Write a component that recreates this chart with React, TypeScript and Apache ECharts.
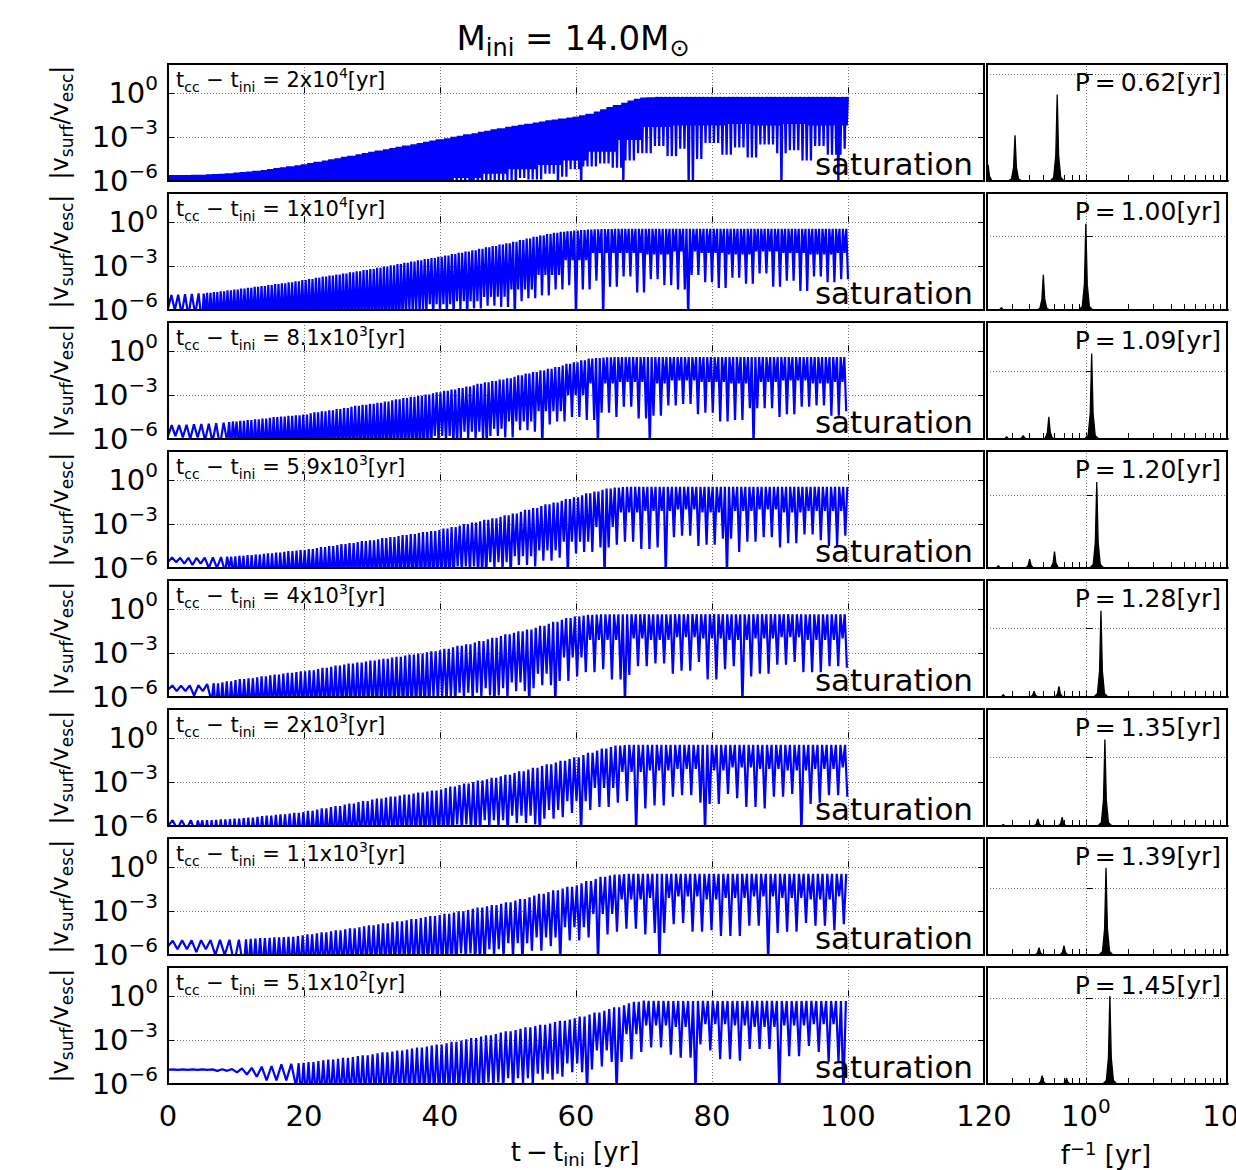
import React, { useEffect, useRef } from "react";
import * as echarts from "echarts";

const FONT = "DejaVu Sans";

// ---------- data ----------
const periods = [0.62, 1.0, 1.09, 1.2, 1.28, 1.35, 1.39, 1.45];
const periodLabels = ["0.62", "1.00", "1.09", "1.20", "1.28", "1.35", "1.39", "1.45"];
const tccMantissa = ["2", "1", "8.1", "5.9", "4", "2", "1.1", "5.1"];
const tccExponent = ["4", "4", "3", "3", "3", "3", "3", "2"];
// time before which |v| dips once per period (offset-dominated), afterwards twice
const crossTimes = [0, 5, 8, 8, 6, 4, 10, 18];

const xTicksLeft = [0, 20, 40, 60, 80, 100, 120];
const minorPeriods = [0.3, 0.4, 0.5, 0.6, 0.7, 0.8, 0.9, 1, 2, 3, 4, 5, 6, 7, 8, 9];
const specLabelExps = [0, 1];
const gridLevels = [0.909, 0.632, 0.582, 0.62, 0.588, 0.589, 0.568, 0.733];

// upper envelope (peaks), log10 |v/vesc|, t = 0,1,...,100 yr
const up1 = [
  -5.6, -5.6, -5.6, -5.59, -5.58, -5.57, -5.55, -5.53, -5.5, -5.47,
  -5.43, -5.39, -5.35, -5.3, -5.25, -5.19, -5.12, -5.06, -5.0, -4.93,
  -4.85, -4.77, -4.68, -4.6, -4.52, -4.44, -4.35, -4.27, -4.18, -4.09,
  -4.0, -3.92, -3.83, -3.75, -3.66, -3.58, -3.49, -3.41, -3.32, -3.24,
  -3.15, -3.07, -2.98, -2.9, -2.81, -2.73, -2.64, -2.56, -2.47, -2.39,
  -2.3, -2.23, -2.15, -2.08, -2.0, -1.93, -1.85, -1.79, -1.72, -1.66,
  -1.6, -1.5, -1.4, -1.25, -1.1, -0.95, -0.8, -0.65, -0.5, -0.38,
  -0.3, -0.27, -0.25, -0.25, -0.25, -0.25, -0.25, -0.25, -0.25, -0.25,
  -0.25, -0.25, -0.25, -0.25, -0.25, -0.25, -0.25, -0.25, -0.25, -0.25,
  -0.25, -0.25, -0.25, -0.25, -0.25, -0.25, -0.25, -0.25, -0.25, -0.25,
  -0.25];
const up2 = [
  -5.0, -4.97, -4.95, -4.92, -4.9, -4.87, -4.83, -4.78, -4.72, -4.66,
  -4.6, -4.54, -4.48, -4.42, -4.36, -4.3, -4.23, -4.17, -4.1, -4.03,
  -3.96, -3.88, -3.8, -3.72, -3.65, -3.57, -3.5, -3.42, -3.35, -3.27,
  -3.2, -3.11, -3.03, -2.94, -2.86, -2.77, -2.69, -2.6, -2.52, -2.44,
  -2.36, -2.27, -2.18, -2.09, -2.0, -1.91, -1.82, -1.72, -1.63, -1.53,
  -1.44, -1.33, -1.22, -1.11, -1.0, -0.9, -0.8, -0.72, -0.65, -0.61,
  -0.57, -0.53, -0.5, -0.48, -0.47, -0.46, -0.45, -0.45, -0.45, -0.45,
  -0.45, -0.45, -0.45, -0.45, -0.45, -0.45, -0.45, -0.45, -0.45, -0.45,
  -0.45, -0.45, -0.45, -0.45, -0.45, -0.45, -0.45, -0.45, -0.45, -0.45,
  -0.45, -0.45, -0.45, -0.45, -0.45, -0.45, -0.45, -0.45, -0.45, -0.45,
  -0.45];
const up3 = [
  -5.05, -5.05, -5.05, -5.03, -5.0, -4.98, -4.95, -4.92, -4.88, -4.84,
  -4.8, -4.75, -4.7, -4.65, -4.6, -4.55, -4.5, -4.46, -4.42, -4.38,
  -4.33, -4.25, -4.18, -4.1, -4.03, -3.95, -3.88, -3.8, -3.73, -3.66,
  -3.6, -3.52, -3.44, -3.36, -3.28, -3.2, -3.12, -3.04, -2.96, -2.88,
  -2.8, -2.7, -2.61, -2.51, -2.42, -2.32, -2.23, -2.13, -2.04, -1.94,
  -1.85, -1.74, -1.64, -1.53, -1.42, -1.31, -1.2, -1.08, -0.97, -0.86,
  -0.75, -0.62, -0.5, -0.46, -0.43, -0.41, -0.4, -0.4, -0.4, -0.4,
  -0.4, -0.4, -0.4, -0.4, -0.4, -0.4, -0.4, -0.4, -0.4, -0.4,
  -0.4, -0.4, -0.4, -0.4, -0.4, -0.4, -0.4, -0.4, -0.4, -0.4,
  -0.4, -0.4, -0.4, -0.4, -0.4, -0.4, -0.4, -0.4, -0.4, -0.4,
  -0.4];
const up4 = [
  -5.25, -5.28, -5.3, -5.3, -5.3, -5.29, -5.28, -5.27, -5.25, -5.23,
  -5.2, -5.16, -5.12, -5.08, -5.03, -4.99, -4.94, -4.9, -4.85, -4.81,
  -4.77, -4.7, -4.64, -4.57, -4.5, -4.43, -4.37, -4.3, -4.23, -4.16,
  -4.1, -4.03, -3.96, -3.89, -3.82, -3.75, -3.68, -3.61, -3.54, -3.47,
  -3.4, -3.3, -3.2, -3.1, -3.0, -2.9, -2.8, -2.7, -2.6, -2.5,
  -2.4, -2.27, -2.15, -2.02, -1.9, -1.77, -1.65, -1.52, -1.4, -1.28,
  -1.16, -1.03, -0.9, -0.77, -0.65, -0.56, -0.5, -0.47, -0.45, -0.45,
  -0.45, -0.45, -0.45, -0.45, -0.45, -0.45, -0.45, -0.45, -0.45, -0.45,
  -0.45, -0.45, -0.45, -0.45, -0.45, -0.45, -0.45, -0.45, -0.45, -0.45,
  -0.45, -0.45, -0.45, -0.45, -0.45, -0.45, -0.45, -0.45, -0.45, -0.45,
  -0.45];
const up5 = [
  -5.2, -5.21, -5.22, -5.21, -5.2, -5.16, -5.12, -5.06, -5.0, -4.93,
  -4.85, -4.78, -4.72, -4.65, -4.59, -4.52, -4.46, -4.4, -4.35, -4.3,
  -4.25, -4.17, -4.09, -4.01, -3.93, -3.85, -3.78, -3.71, -3.64, -3.57,
  -3.51, -3.44, -3.38, -3.31, -3.25, -3.17, -3.1, -3.02, -2.95, -2.87,
  -2.8, -2.7, -2.6, -2.5, -2.39, -2.28, -2.17, -2.06, -1.95, -1.83,
  -1.72, -1.61, -1.5, -1.38, -1.27, -1.13, -1.0, -0.86, -0.72, -0.6,
  -0.49, -0.43, -0.38, -0.36, -0.34, -0.34, -0.34, -0.34, -0.34, -0.34,
  -0.34, -0.34, -0.34, -0.34, -0.34, -0.34, -0.34, -0.34, -0.34, -0.34,
  -0.34, -0.34, -0.34, -0.34, -0.34, -0.34, -0.34, -0.34, -0.34, -0.34,
  -0.34, -0.34, -0.34, -0.34, -0.34, -0.34, -0.34, -0.34, -0.34, -0.34,
  -0.34];
const up6 = [
  -5.6, -5.6, -5.6, -5.61, -5.62, -5.61, -5.6, -5.58, -5.55, -5.53,
  -5.5, -5.46, -5.42, -5.38, -5.33, -5.29, -5.24, -5.2, -5.15, -5.1,
  -5.05, -4.97, -4.88, -4.8, -4.71, -4.63, -4.54, -4.46, -4.37, -4.29,
  -4.2, -4.13, -4.06, -3.99, -3.92, -3.85, -3.78, -3.71, -3.64, -3.57,
  -3.5, -3.4, -3.3, -3.2, -3.1, -3.0, -2.9, -2.8, -2.7, -2.6,
  -2.5, -2.38, -2.26, -2.14, -2.02, -1.9, -1.78, -1.66, -1.54, -1.42,
  -1.3, -1.15, -1.0, -0.85, -0.7, -0.6, -0.5, -0.47, -0.45, -0.45,
  -0.45, -0.45, -0.45, -0.45, -0.45, -0.45, -0.45, -0.45, -0.45, -0.45,
  -0.45, -0.45, -0.45, -0.45, -0.45, -0.45, -0.45, -0.45, -0.45, -0.45,
  -0.45, -0.45, -0.45, -0.45, -0.45, -0.45, -0.45, -0.45, -0.45, -0.45,
  -0.45];
const up7 = [
  -5.05, -5.02, -5.0, -5.0, -5.0, -4.99, -4.98, -4.98, -4.97, -4.96,
  -4.95, -4.93, -4.9, -4.88, -4.85, -4.83, -4.8, -4.78, -4.75, -4.7,
  -4.65, -4.58, -4.52, -4.45, -4.38, -4.31, -4.24, -4.17, -4.1, -4.03,
  -3.97, -3.9, -3.83, -3.76, -3.69, -3.62, -3.55, -3.48, -3.41, -3.34,
  -3.27, -3.18, -3.1, -3.01, -2.93, -2.84, -2.76, -2.67, -2.59, -2.5,
  -2.4, -2.28, -2.17, -2.05, -1.94, -1.82, -1.7, -1.58, -1.46, -1.34,
  -1.23, -1.09, -0.95, -0.8, -0.65, -0.57, -0.5, -0.47, -0.45, -0.45,
  -0.45, -0.45, -0.45, -0.45, -0.45, -0.45, -0.45, -0.45, -0.45, -0.45,
  -0.45, -0.45, -0.45, -0.45, -0.45, -0.45, -0.45, -0.45, -0.45, -0.45,
  -0.45, -0.45, -0.45, -0.45, -0.45, -0.45, -0.45, -0.45, -0.45, -0.45,
  -0.45];
const up8 = [
  -5.0, -5.0, -5.0, -5.0, -5.0, -5.0, -5.0, -5.0, -4.99, -4.98,
  -4.96, -4.93, -4.9, -4.86, -4.82, -4.77, -4.72, -4.66, -4.62, -4.58,
  -4.55, -4.5, -4.44, -4.38, -4.33, -4.27, -4.21, -4.15, -4.09, -4.03,
  -3.97, -3.91, -3.84, -3.78, -3.71, -3.65, -3.58, -3.51, -3.44, -3.37,
  -3.3, -3.21, -3.12, -3.03, -2.94, -2.85, -2.76, -2.67, -2.58, -2.49,
  -2.4, -2.31, -2.22, -2.13, -2.04, -1.95, -1.86, -1.77, -1.68, -1.59,
  -1.5, -1.38, -1.25, -1.12, -1.0, -0.88, -0.75, -0.62, -0.48, -0.38,
  -0.3, -0.31, -0.32, -0.32, -0.32, -0.32, -0.32, -0.32, -0.32, -0.32,
  -0.32, -0.32, -0.32, -0.32, -0.32, -0.32, -0.32, -0.32, -0.32, -0.32,
  -0.32, -0.32, -0.32, -0.32, -0.32, -0.32, -0.32, -0.32, -0.32, -0.32,
  -0.32];

// shallow troughs (floor of the dense band), t = 0,4,...,100
const fl1 = [-7, -7, -7, -7, -7, -7, -7, -7, -7, -7, -7,
  -5.8, -5.5, -5.2, -4.9, -4.6, -4.0, -3.2, -2.3, -2.2, -2.2, -2.1, -2.2, -2.1, -2.2, -2.2];
const fl2 = [-5.9, -6.3, -7, -7, -7, -7, -7, -7, -7,
  -6.0, -5.6, -5.4, -5.1, -4.6, -3.6, -2.6, -2.1, -2.1, -2.2, -2.0, -2.1, -2.2, -2.0, -2.1, -2.2, -2.1];
const fl3 = [-5.8, -5.9, -6.2, -7, -7, -7, -7, -7, -7, -7,
  -5.8, -5.5, -5.3, -4.8, -4.1, -3.0, -2.2, -2.1, -2.2, -2.0, -2.1, -2.2, -2.1, -2.0, -2.2, -2.1];
const fl4 = [-5.6, -5.7, -6.0, -7, -7, -7, -7, -7, -7, -7, -7,
  -5.9, -5.6, -5.2, -4.8, -4.2, -3.2, -2.2, -2.1, -2.0, -2.2, -2.1, -2.0, -2.2, -2.1, -2.1];
const fl5 = [-5.5, -5.6, -7, -7, -7, -7, -7, -7, -7, -7,
  -6.0, -5.7, -5.4, -5.0, -4.4, -3.3, -2.1, -2.0, -2.1, -1.9, -2.0, -2.1, -2.0, -1.9, -2.1, -2.0];
const fl6 = [-6.0, -6.2, -7, -7, -7, -7, -7, -7, -7, -7, -7,
  -5.9, -5.6, -5.3, -4.9, -4.3, -3.4, -2.3, -2.2, -2.1, -2.2, -2.0, -2.1, -2.2, -2.1, -2.0];
const fl7 = [-5.4, -5.6, -6.0, -7, -7, -7, -7, -7, -7, -7, -7,
  -5.9, -5.6, -5.2, -4.8, -4.1, -3.2, -2.2, -2.1, -2.0, -2.2, -2.1, -2.0, -2.1, -2.2, -2.0];
const fl8 = [-5.03, -5.04, -5.1, -5.35, -5.75, -7, -7, -7, -7, -7, -7, -7,
  -5.9, -5.6, -5.3, -4.6, -3.7, -2.6, -2.0, -2.1, -1.9, -2.0, -2.1, -2.0, -1.9, -2.0];

// deep troughs (spikes below the band), t = 0,2,...,100
const dp1 = [-7, -7, -7, -7, -7, -7, -7, -7, -7, -7, -7, -7, -7, -7, -7, -7, -7, -7, -7, -7, -7,
  -6.6, -6.2, -6.5, -6.0, -6.1, -5.8, -5.9, -5.5, -5.7, -5.2,
  -5.0, -4.8, -5.1, -4.6, -4.1, -3.6, -4.3, -3.8, -4.5, -3.4,
  -4.2, -3.7, -4.4, -3.5, -4.1, -3.9, -4.6, -3.6, -4.2, -3.8];
const dp2 = [-5.9, -6.0, -6.4, -7, -7, -7, -7, -7, -7, -7, -7, -7, -7, -7, -7, -7, -7, -7,
  -6.5, -6.3, -6.2, -6.4, -6.0, -5.9, -5.7, -5.8, -5.4, -5.2, -5.0, -4.6, -4.3, -4.6, -4.0, -4.4,
  -3.7, -4.8, -3.9, -4.3, -4.6, -3.6, -4.1, -4.5, -3.8, -4.2, -3.5, -4.4, -4.0, -4.7, -3.7, -4.1, -3.9];
const dp3 = [-5.8, -5.8, -6.0, -6.1, -6.5, -6.8, -7, -7, -7, -7, -7, -7, -7, -7, -7, -7, -7, -7, -7, -7,
  -6.3, -6.5, -6.0, -6.1, -5.8, -5.9, -5.4, -5.5, -5.0, -4.8, -4.5, -4.7, -4.2, -4.5, -3.8, -4.6,
  -4.4, -3.7, -3.6, -4.3, -4.2, -4.8, -4.7, -3.9, -3.9, -4.5, -4.3, -3.8, -3.7, -4.4, -4.1];
const dp4 = [-5.6, -5.6, -5.8, -6.0, -6.3, -6.6, -7, -7, -7, -7, -7, -7, -7, -7, -7, -7, -7, -7, -7, -7, -7, -7,
  -6.4, -6.6, -6.1, -6.2, -5.8, -5.9, -5.5, -5.3, -5.0, -4.9, -4.6, -4.4, -4.2, -4.7, -4.6,
  -3.9, -3.8, -4.5, -4.4, -4.0, -4.9, -4.2, -3.9, -4.6, -4.3, -3.7, -4.1, -4.5, -3.8];
const dp5 = [-5.5, -5.6, -5.9, -6.3, -7, -7, -7, -7, -7, -7, -7, -7, -7, -7, -7, -7, -7, -7, -7, -7,
  -6.4, -6.6, -6.2, -6.0, -5.9, -6.1, -5.6, -5.4, -5.2, -4.9, -4.6, -4.3, -4.1, -4.8, -4.5, -3.9,
  -3.7, -4.4, -4.2, -3.6, -4.8, -4.1, -3.9, -4.6, -4.4, -3.8, -3.6, -4.3, -4.3, -3.9, -4.0];
const dp6 = [-6.1, -6.2, -6.5, -6.8, -7, -7, -7, -7, -7, -7, -7, -7, -7, -7, -7, -7, -7, -7, -7, -7, -7, -7,
  -6.4, -6.5, -6.1, -6.3, -5.8, -5.9, -5.5, -5.4, -5.1, -4.9, -4.7, -4.4, -4.3, -4.8, -4.6,
  -4.0, -3.9, -4.4, -4.5, -3.8, -4.1, -4.7, -4.8, -4.0, -3.8, -4.5, -4.4, -3.9, -4.0];
const dp7 = [-5.5, -5.6, -5.8, -6.0, -6.3, -6.6, -7, -7, -7, -7, -7, -7, -7, -7, -7, -7, -7, -7, -7, -7, -7, -7,
  -6.4, -6.6, -6.1, -6.2, -5.8, -5.7, -5.4, -5.2, -5.0, -4.8, -4.6, -4.4, -4.2, -4.6, -4.5,
  -3.9, -3.8, -4.4, -4.3, -4.7, -4.7, -4.0, -3.9, -4.5, -4.4, -3.8, -4.0, -4.3, -3.9];
const dp8 = [-5.02, -5.03, -5.04, -5.05, -5.1, -5.2, -5.35, -5.5, -5.75, -6.2,
  -7, -7, -7, -7, -7, -7, -7, -7, -7, -7, -7, -7, -7, -7,
  -6.3, -6.5, -6.0, -6.1, -5.7, -5.5, -5.2, -5.0, -4.8, -4.5, -4.3, -3.8, -3.5, -4.0,
  -4.2, -3.3, -3.7, -4.3, -4.4, -3.6, -3.6, -4.2, -4.1, -3.4, -3.8, -4.5, -4.0];

// isolated very deep dips (years)
const dips1 = [44.5, 51, 57.5, 60.8, 66.9, 76.7, 77.2, 90.2, 98.5];
const dips2 = [34.6, 39, 44, 51, 60, 64, 76.6];
const dips3 = [38, 42.5, 47, 55, 63, 71, 86];
const dips4 = [46, 50.5, 59, 64, 73, 82];
const dips5 = [42, 48, 53, 57, 67, 84.5];
const dips6 = [45, 50, 55, 61, 69, 79, 93];
const dips7 = [46, 52, 58, 63, 72, 88];
const dips8 = [61.8, 66, 77.3, 90, 99];
const DIP_LEVEL = -6.6;

// spectrum peaks: [period (yr), height as fraction of panel]
const peaks1 = [[0.203, 0.14], [0.315, 0.39], [0.627, 0.739]];
const peaks2 = [[0.252, 0.02], [0.5, 0.3], [1.0, 0.737]];
const peaks3 = [[0.275, 0.02], [0.36, 0.03], [0.547, 0.19], [1.1, 0.731]];
const peaks4 = [[0.24, 0.02], [0.4, 0.075], [0.6, 0.14], [1.195, 0.735]];
const peaks5 = [[0.26, 0.02], [0.43, 0.05], [0.645, 0.09], [1.28, 0.738]];
const peaks6 = [[0.26, 0.012], [0.457, 0.06], [0.68, 0.075], [1.365, 0.739]];
const peaks7 = [[0.466, 0.063], [0.7, 0.08], [1.39, 0.745]];
const peaks8 = [[0.49, 0.072], [0.73, 0.05], [1.48, 0.753]];
// profile of one spectral line: [log10 offset, relative height]
const peakShape = [[-0.05, 0], [-0.025, 0.04], [-0.01, 0.3], [0, 1], [0.01, 0.3], [0.025, 0.04], [0.05, 0]];

const uppers = [up1, up2, up3, up4, up5, up6, up7, up8];
const floors = [fl1, fl2, fl3, fl4, fl5, fl6, fl7, fl8];
const deeps = [dp1, dp2, dp3, dp4, dp5, dp6, dp7, dp8];
const dipTimes = [dips1, dips2, dips3, dips4, dips5, dips6, dips7, dips8];
const spectrumPeaks = [peaks1, peaks2, peaks3, peaks4, peaks5, peaks6, peaks7, peaks8];

// ---------- layout ----------
const L_X = 168, L_W = 816, R_X = 987, R_W = 240, TOP0 = 64, PITCH = 129, H = 117;

function buildTimeSeries(i: number): number[][] {
  const P = periods[i];
  const up = uppers[i], fl = floors[i], dp = deeps[i], dips = dipTimes[i];
  const out: number[][] = [];
  let t = 0;
  let j = 0;
  while (t <= 100.0001) {
    const step = t < crossTimes[i] ? P : P / 2;
    let low = j % 2 === 1 ? dp[Math.round(t / 2)] : fl[Math.round(t / 4)];
    for (const d of dips) if (Math.abs(d - t) < step / 2) low = DIP_LEVEL;
    out.push([t, low]);
    const tp = t + step / 2;
    if (tp <= 100) out.push([tp, up[Math.round(tp)]]);
    t += step;
    j++;
  }
  return out;
}

function buildSpectrum(i: number): number[][] {
  const pts: number[][] = [[-0.8, 0]];
  for (const [p, h] of spectrumPeaks[i]) {
    const c = Math.log10(p);
    for (const [dx, f] of peakShape) pts.push([c + dx, h * f]);
  }
  pts.push([1.05, 0]);
  return pts;
}

function rs(fontSize: number, lineHeight: number, verticalAlign?: string) {
  const o: any = { fontSize, lineHeight, fontFamily: FONT, color: "#000", fill: "#000" };
  if (verticalAlign) o.verticalAlign = verticalAlign;
  return o;
}

const tickRich = { b: rs(29, 40), sup: rs(20, 26, "top") };
const labelRich = { b: rs(21, 28), sub: rs(14, 18, "bottom"), sup: rs(14, 14, "top") };
const pRich = { b: rs(25, 30) };
const satRich = { b: rs(31, 36) };
const rowRich = { b: rs(24, 30), sub: rs(17, 20, "bottom") };
const titleRich = { b: rs(34, 44), sub: rs(24, 24, "bottom") };
const nameRich = { b: rs(26, 32), sub: rs(18, 18, "bottom"), sup: rs(18, 16, "top") };

const dotted = { type: [1, 2], color: "#777", width: 1 };

function textEl(x: number, y: number, text: string, rich: any, align: string, extra: any = {}) {
  return {
    type: "text",
    x,
    y,
    z: 110,
    silent: true,
    ...extra,
    style: {
      text,
      rich,
      fill: "#000",
      fontFamily: FONT,
      align,
      textAlign: align,
      verticalAlign: "middle",
      textVerticalAlign: "middle",
    },
  };
}

function buildOption(): any {
  const grid: any[] = [];
  const xAxis: any[] = [];
  const yAxis: any[] = [];
  const series: any[] = [];
  const graphic: any[] = [];

  for (let i = 0; i < 8; i++) {
    const top = TOP0 + i * PITCH;
    const last = i === 7;
    grid.push({ left: L_X, top, width: L_W, height: H, containLabel: false, outerBoundsMode: "none" });
    grid.push({ left: R_X, top, width: R_W, height: H, containLabel: false, outerBoundsMode: "none" });

    xAxis.push({
      type: "value",
      gridIndex: 2 * i,
      min: xTicksLeft[0],
      max: xTicksLeft[xTicksLeft.length - 1],
      interval: 20,
      axisLine: { show: false },
      axisTick: { show: true, inside: true, length: 6, lineStyle: { color: "#000", width: 1 } },
      axisLabel: {
        show: last,
        margin: 12,
        formatter: (v: number) => `{b|${v}}`,
        rich: tickRich,
      },
      splitLine: { show: true, lineStyle: dotted },
    });
    xAxis.push({
      type: "value",
      gridIndex: 2 * i + 1,
      min: -0.7,
      max: 1,
      axisLine: { show: false },
      axisTick: {
        show: true,
        inside: true,
        length: 6,
        customValues: minorPeriods.map((p) => Math.log10(p)),
        lineStyle: { color: "#000", width: 1 },
      },
      axisLabel: {
        show: last,
        margin: 12,
        customValues: specLabelExps,
        formatter: (v: number) => `{b|10}{sup|${Math.round(v)}}`,
        rich: tickRich,
      },
      splitLine: { show: false },
    });

    yAxis.push({
      type: "value",
      gridIndex: 2 * i,
      min: -6,
      max: 2,
      interval: 3,
      axisLine: { show: false },
      axisTick: { show: true, inside: true, length: 6, lineStyle: { color: "#000", width: 1 } },
      axisLabel: {
        show: true,
        margin: 10,
        formatter: (v: number) =>
          v > 0.5 ? "" : `{b|10}{sup|${v === 0 ? "0" : "\u2212" + Math.abs(v)}}`,
        rich: tickRich,
      },
      splitLine: { show: true, lineStyle: dotted },
    });
    yAxis.push({
      type: "value",
      gridIndex: 2 * i,
      position: "right",
      min: -6,
      max: 2,
      interval: 3,
      axisLine: { show: false },
      axisTick: { show: true, inside: true, length: 6, lineStyle: { color: "#000", width: 1 } },
      axisLabel: { show: false },
      splitLine: { show: false },
    });
    yAxis.push({
      type: "value",
      gridIndex: 2 * i + 1,
      min: 0,
      max: 1,
      interval: gridLevels[i],
      axisLine: { show: false },
      axisTick: { show: true, inside: true, length: 7, lineStyle: { color: "#000", width: 1 } },
      axisLabel: { show: false },
      splitLine: { show: true, lineStyle: dotted },
    });

    series.push({
      type: "line",
      name: `v${i}`,
      xAxisIndex: 2 * i,
      yAxisIndex: 3 * i,
      data: buildTimeSeries(i),
      symbol: "none",
      showSymbol: false,
      clip: true,
      silent: true,
      lineStyle: { color: "#0000ff", width: 2.2 },
      z: 3,
    });
    series.push({
      type: "line",
      name: `s${i}`,
      xAxisIndex: 2 * i + 1,
      yAxisIndex: 3 * i + 2,
      data: buildSpectrum(i),
      symbol: "none",
      showSymbol: false,
      clip: true,
      silent: true,
      lineStyle: { color: "#000", width: 1.3 },
      areaStyle: { color: "#000", opacity: 1 },
      z: 3,
      markLine: {
        silent: true,
        symbol: "none",
        label: { show: false },
        lineStyle: dotted,
        data: [{ xAxis: 0 }],
        z: 2,
      },
    });

    // frames
    graphic.push({
      type: "rect",
      z: 100,
      silent: true,
      shape: { x: L_X, y: top, width: L_W, height: H },
      style: { fill: "none", stroke: "#000", lineWidth: 2 },
    });
    graphic.push({
      type: "rect",
      z: 100,
      silent: true,
      shape: { x: R_X, y: top, width: R_W, height: H },
      style: { fill: "none", stroke: "#000", lineWidth: 2 },
    });

    graphic.push(
      textEl(
        L_X + 8,
        top + 16,
        `{b|t}{sub|cc}{b| \u2212 t}{sub|ini}{b| = ${tccMantissa[i]}x10}{sup|${tccExponent[i]}}{b|[yr]}`,
        labelRich,
        "left"
      )
    );
    graphic.push(textEl(R_X + R_W - 6, top + 18, `{b|P\u2009=\u2009${periodLabels[i]}[yr]}`, pRich, "right"));
    graphic.push(textEl(L_X + L_W - 11, top + 100, `{b|saturation}`, satRich, "right"));
    graphic.push(
      textEl(60, top + H / 2, `{b||v}{sub|surf}{b|/v}{sub|esc}{b||}`, rowRich, "center", {
        rotation: Math.PI / 2,
      })
    );
  }

  graphic.push(textEl(573, 38, `{b|M}{sub|ini}{b| = 14.0M}{sub|\u2299}`, titleRich, "center"));
  graphic.push(textEl(575, 1152, `{b|t\u2009\u2212\u2009t}{sub|ini}{b| [yr]}`, nameRich, "center"));
  graphic.push(textEl(1106, 1155, `{b|f}{sup|\u22121}{b| [yr]}`, nameRich, "center"));

  return {
    animation: false,
    backgroundColor: "#fff",
    textStyle: { fontFamily: FONT, color: "#000" },
    grid,
    xAxis,
    yAxis,
    series,
    graphic,
  };
}

export default function App() {
  const ref = useRef<HTMLDivElement>(null);
  useEffect(() => {
    document.body.style.margin = "0";
    const chart = echarts.init(ref.current as HTMLDivElement, undefined, { renderer: "svg" });
    chart.setOption(buildOption());
    return () => chart.dispose();
  }, []);
  return <div ref={ref} style={{ width: 1236, height: 1170 }} />;
}
